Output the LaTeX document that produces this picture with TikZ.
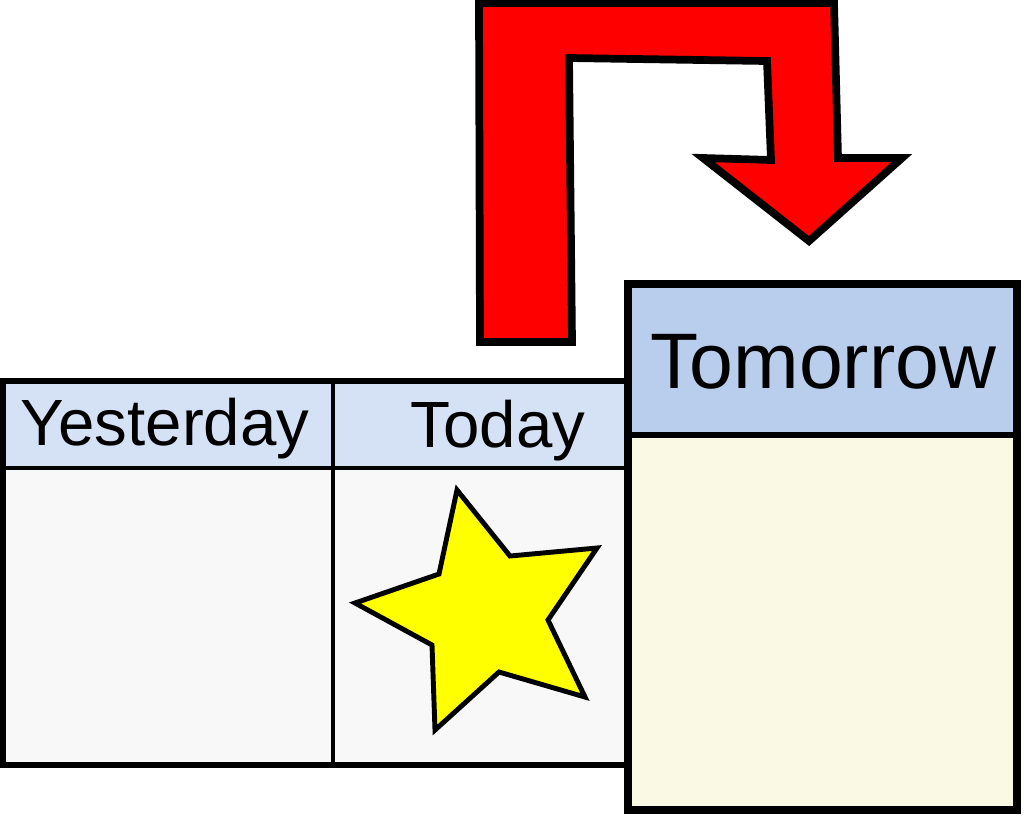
\documentclass[tikz,border=0pt]{standalone}
\usepackage{fontspec}
\setmainfont{Liberation Sans}
\definecolor{headblue}{HTML}{D5E1F4}
\definecolor{tomblue}{HTML}{B9CDEC}
\definecolor{bodygray}{HTML}{F8F8F8}
\definecolor{tomcream}{HTML}{FAFAE4}
\definecolor{staryellow}{HTML}{FFFF00}
\begin{document}
\begin{tikzpicture}[x=0.025cm,y=-0.025cm,line join=miter,
  daylabel/.style={anchor=base,inner sep=0pt,font=\fontsize{46.5}{52}\selectfont},
  tomlabel/.style={anchor=base,inner sep=0pt,font=\fontsize{56}{62}\selectfont}]
  \useasboundingbox (0,0) rectangle (1024,817);
  % yesterday / today table
  \fill[bodygray] (3,381) rectangle (628,765);
  \fill[headblue] (3,381) rectangle (628,468);
  \draw[line width=3pt] (3,468) -- (628,468);
  \draw[line width=3pt] (333,381) -- (333,765);
  \draw[line width=4.5pt] (628,381) -- (3,381) -- (3,765) -- (628,765);
  \node[daylabel] (yest) at (165,445) {Yesterday};
  \node[daylabel] (today) at (498,447) {Today};
  % star
  \draw[line width=3.5pt,fill=staryellow] (457,490) -- (510,556) -- (597,548) -- (548,620) -- (585,697)
    -- (499,672) -- (435,730) -- (432,645) -- (355,603) -- (439,574) -- cycle;
  % tomorrow box
  \fill[tomcream] (628,284) rectangle (1017,810);
  \fill[tomblue] (628,284) rectangle (1017,435);
  \draw[line width=4.5pt] (628,435) -- (1017,435);
  \draw[line width=5.5pt] (628,284) rectangle (1017,810);
  \node[tomlabel] (tom) at (823,388) {Tomorrow};
  % red arrow
  \draw[line width=5.5pt,fill=red] (479,3) -- (834,3) -- (838,158) -- (902,158) -- (809,241) -- (703,158)
    -- (771,160) -- (767,61) -- (569,58) -- (572,342) -- (480,342) -- cycle;
\end{tikzpicture}
\end{document}
